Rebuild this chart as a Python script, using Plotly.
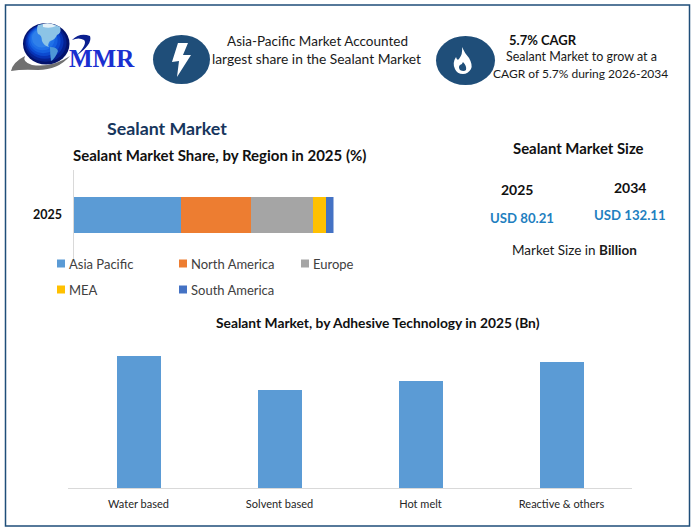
import plotly.graph_objects as go

W, H = 696, 532
FONT = "Lato"

# Data
years = ["2025"]
regions = ["Asia Pacific", "North America", "Europe", "MEA", "South America"]
region_share = [41.3, 26.9, 23.8, 5, 3]
region_colors = ["#5B9BD5", "#ED7D31", "#A5A5A5", "#FFC000", "#4472C4"]
tech_labels = ["Water based", "Solvent based", "Hot melt", "Reactive & others"]
tech_values = [22.9, 17.0, 18.5, 21.8]
size_years = ["2025", "2034"]
size_values = ["USD 80.21", "USD 132.11"]


def fx(x):
    return x / W


def fy(y):
    return 1 - y / H


def C(cmds):
    """SVG path with pixel coordinates: list of (letter, x1,y1,...)."""
    out = []
    for c in cmds:
        nums = c[1:]
        pts = []
        for i in range(0, len(nums), 2):
            pts.append(f"{fx(nums[i]):.4f},{fy(nums[i+1]):.4f}")
        out.append(c[0] + " ".join(pts))
    return " ".join(out)


fig = go.Figure()

for name, val, col in zip(regions, region_share, region_colors):
    fig.add_trace(go.Bar(x=[val], y=years, name=name, orientation="h",
                         marker=dict(color=col, line=dict(width=0)),
                         xaxis="x", yaxis="y", showlegend=False))

fig.add_trace(go.Bar(x=tech_labels, y=tech_values, name="Adhesive technology",
                     marker=dict(color="#5B9BD5", line=dict(width=0)),
                     xaxis="x2", yaxis="y2", showlegend=False, width=0.312))

shapes = []
annos = []


def text(x, y, s, size=13, color="#1a1a1a", anchor="center", bold=False):
    annos.append(dict(x=fx(x), y=fy(y), xref="paper", yref="paper", showarrow=False,
                      text=f"<b>{s}</b>" if bold else s, xanchor=anchor, yanchor="middle",
                      font=dict(family=FONT, size=size, color=color)))


def ellipse(x0, y0, x1, y1, color):
    shapes.append(dict(type="circle", xref="paper", yref="paper", x0=fx(x0), x1=fx(x1),
                       y0=fy(y1), y1=fy(y0), fillcolor=color, line=dict(width=0), layer="above"))


def path(p, color):
    shapes.append(dict(type="path", xref="paper", yref="paper", path=p, fillcolor=color,
                       line=dict(width=0), layer="above"))


# frame
shapes.append(dict(type="rect", xref="paper", yref="paper", x0=fx(5.5), x1=fx(689.5), y0=fy(526), y1=fy(5),
                   line=dict(color="#1F4E79", width=1.5), fillcolor="rgba(0,0,0,0)"))

# logo swoosh
path(C([("M", 11, 71), ("Q", 13, 62, 25, 56), ("Q", 22, 62, 32, 65), ("Q", 52, 68, 70, 56),
        ("Q", 58, 70, 38, 70), ("Q", 22, 69, 11, 71), ("Z",)]), "#707070")
# globe gradient
globe = ["#03126b", "#05208f", "#0733b5", "#0c4ad0", "#1560e0", "#1f70e8", "#2f80ea"]
for i, col in enumerate(globe):
    k = i * 2.7
    ellipse(23 + k * 0.55, 23 + k * 0.35, 69.5 - k * 1.1, 64.5 - k * 1.05, col)
# continents
path(C([("M", 38, 25), ("Q", 50, 21, 60, 27), ("Q", 62, 33, 57, 35), ("Q", 55, 40, 50, 41),
        ("Q", 47, 45, 49, 47), ("Q", 44, 46, 42, 41), ("Q", 42, 35, 38, 34), ("Q", 36, 29, 38, 25), ("Z",)]), "#8CC4E6")
path(C([("M", 50, 47), ("Q", 57, 47, 58, 51), ("Q", 55, 59, 51, 61), ("Q", 50, 53, 50, 47), ("Z",)]), "#4E97D6")
path(C([("M", 43, 24), ("Q", 50, 22, 56, 26), ("Q", 50, 29, 43, 27), ("Z",)]), "#E4F1F8")
# logo small arc
path(C([("M", 72, 40), ("Q", 80, 32, 90, 36), ("Q", 93, 44, 76, 56), ("Q", 88, 44, 84, 40), ("Q", 79, 37, 72, 40), ("Z",)]), "#0A1F8F")
annos.append(dict(x=fx(102), y=fy(59), xref="paper", yref="paper", showarrow=False, text="<b>MMR</b>",
                  xanchor="center", yanchor="middle",
                  font=dict(family="Liberation Serif", size=25, color="#1A2FD0")))

# icons
ellipse(153, 35, 210, 84, "#1F4E79")
path(C([("M", 178, 43), ("L", 172, 62), ("L", 179, 61), ("L", 177, 77), ("L", 191, 55),
        ("L", 183, 55), ("L", 188, 43), ("Z",)]), "#FFFFFF")
ellipse(436, 36, 495, 85, "#1F4E79")
path(C([("M", 462, 47), ("Q", 465, 54, 469, 58), ("Q", 473, 65, 471, 69), ("Q", 468, 74, 463, 74),
        ("Q", 457, 74, 455, 69), ("Q", 452, 63, 456, 57), ("Q", 457, 61, 459, 59),
        ("Q", 463, 54, 462, 47), ("Z",)]), "#FFFFFF")
path(C([("M", 463, 62), ("Q", 467, 66, 466, 70), ("Q", 464, 72, 460, 70), ("Q", 458, 67, 460, 65),
        ("Q", 462, 65, 463, 62), ("Z",)]), "#1F4E79")

# header text
text(317, 41, "Asia-Pacific Market Accounted", 13.5)
text(316.5, 59, "largest share in the Sealant Market", 13.8)
text(543, 40, "5.7% CAGR", 13, "#111111", bold=True)
text(581, 56, "Sealant Market to grow at a", 12.5)
text(580.5, 73, "CAGR of 5.7% during 2026-2034", 12)

text(167, 128, "Sealant Market", 17.8, "#17365D", bold=True)
text(219, 155, "Sealant Market Share, by Region in 2025 (%)", 15, "#111111", bold=True)
text(578.5, 148, "Sealant Market Size", 14.9, "#111111", bold=True)

text(517, 189, size_years[0], 14, "#111111", bold=True)
text(630, 188, size_years[1], 14, "#111111", bold=True)
text(521.5, 218, size_values[0], 13.2, "#1F7FC0", bold=True)
text(630, 215, size_values[1], 13.2, "#1F7FC0", bold=True)
text(574, 250, "Market Size in <b>Billion</b>", 13.5)

text(378, 322, "Sealant Market, by Adhesive Technology in 2025 (Bn)", 13.8, "#111111", bold=True)

# legend keys
legend_pos = [(57, 263.5), (179, 263.5), (301, 263.5), (57, 289.5), (179, 289.5)]
for (lx, ly), name, col in zip(legend_pos, regions, region_colors):
    shapes.append(dict(type="rect", xref="paper", yref="paper", x0=fx(lx), x1=fx(lx + 8),
                       y0=fy(ly + 4), y1=fy(ly - 4), fillcolor=col, line=dict(width=0)))
    text(lx + 9.5, ly, name, 13, "#404040", anchor="left")

fig.update_layout(
    width=W, height=H, margin=dict(l=0, r=0, t=0, b=0, autoexpand=False),
    paper_bgcolor="#FFFFFF", plot_bgcolor="#FFFFFF",
    barmode="stack", bargap=0.6, showlegend=False,
    font=dict(family=FONT),
    shapes=shapes, annotations=annos,
    xaxis=dict(domain=[fx(73.5), fx(333.5)], range=[0, 100], visible=False, anchor="y"),
    yaxis=dict(domain=[fy(260), fy(170)], type="category", anchor="x", showgrid=False,
               showline=True, linecolor="#D9D9D9", linewidth=1, ticks="", ticklabelstandoff=8,
               tickfont=dict(family=FONT, size=12.5, color="#111111", weight="bold")),
    xaxis2=dict(domain=[fx(68), fx(632)], anchor="y2", type="category", showgrid=False, showline=True,
                linecolor="#D9D9D9", linewidth=1, ticks="", ticklabelstandoff=6,
                tickfont=dict(family=FONT, size=11, color="#262626")),
    yaxis2=dict(domain=[fy(488), fy(340)], range=[0, 25.68], anchor="x2", visible=False),
)
fig.write_html("out.html", config={"displayModeBar": False},
               post_script="document.body.style.margin='0';document.documentElement.style.overflow='hidden';")
